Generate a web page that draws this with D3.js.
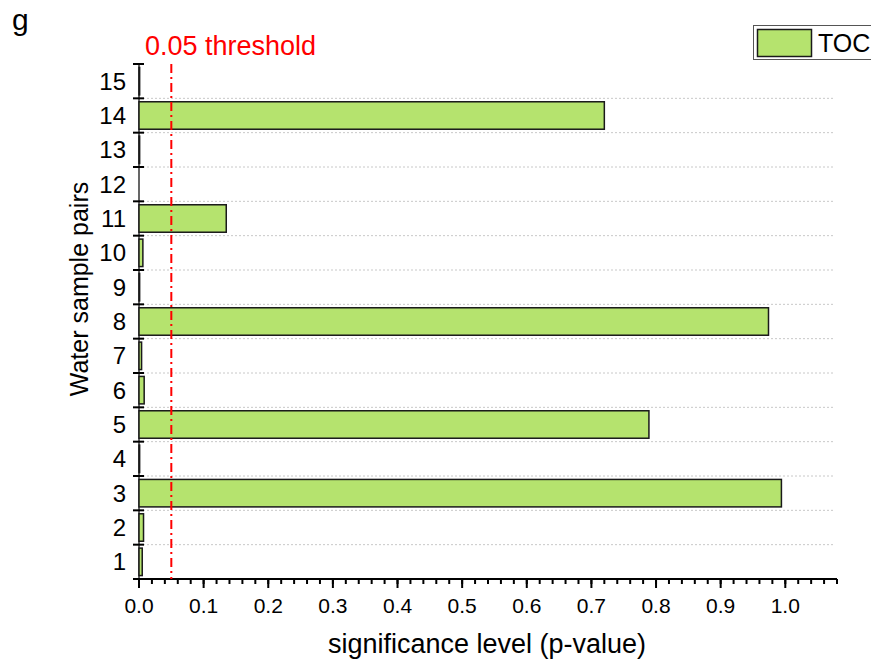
<!DOCTYPE html>
<html><head><meta charset="utf-8">
<script src="https://cdn.jsdelivr.net/npm/d3@7"></script>
<style>body{margin:0;background:#fff}svg{display:block;font-family:"Liberation Sans",Arial,sans-serif}</style>
</head><body><svg id="c" width="871" height="661"></svg>
<script>
const categories = ["1","2","3","4","5","6","7","8","9","10","11","12","13","14","15"];
const pValues = [0.005, 0.007, 0.994, 0.001, 0.789, 0.008, 0.004, 0.974, 0.001, 0.006, 0.135, 0, 0.001, 0.720, 0.001];
const xTicks = [0,0.1,0.2,0.3,0.4,0.5,0.6,0.7,0.8,0.9,1.0];
const threshold = 0.05;
const seriesName = "TOC";

const svg = d3.select("#c");
const L = 139, R = 837, T = 64, B = 579;
const x = d3.scaleLinear().domain([0, 1.08]).range([L, R]);
const y = d3.scaleBand().domain(categories.slice().reverse()).range([T, B]).paddingInner(0.2).paddingOuter(0.1);
const step = y.step();
const bandTop = c => y(c) - y.paddingInner()*step/2;

// gridlines at band boundaries
const bounds = categories.slice(0, -1).map(c => bandTop(c));
svg.append("g").selectAll("line").data(bounds).join("line")
  .attr("x1", L).attr("x2", 835).attr("y1", d => d).attr("y2", d => d)
  .attr("stroke", "#c8c8c8").attr("stroke-width", 1).attr("stroke-dasharray", "2,2");

// y axis line
svg.append("line").attr("x1", L).attr("x2", L).attr("y1", T).attr("y2", B)
  .attr("stroke", "#000").attr("stroke-width", 1.2);

// bars
svg.append("g").selectAll("rect").data(categories.map((c,i)=>({c, v:pValues[i]})).filter(d=>d.v>0)).join("rect")
  .attr("x", x(0)).attr("y", d => y(d.c)).attr("height", y.bandwidth())
  .attr("width", d => x(d.v) - x(0))
  .attr("fill", "#b5e36e").attr("stroke", "#1a1a1a").attr("stroke-width", 1.5);

// y ticks at band boundaries
const yTickPos = [T].concat(bounds).concat([B]);
svg.append("g").selectAll("line").data(yTickPos).join("line")
  .attr("x1", L-6).attr("x2", L+5).attr("y1", d=>d).attr("y2", d=>d)
  .attr("stroke", "#000").attr("stroke-width", 2);

// y labels
svg.append("g").selectAll("text").data(categories).join("text")
  .attr("x", 126).attr("y", d => y(d) + y.bandwidth()/2 + 8.5)
  .attr("text-anchor", "end").attr("font-size", 24).attr("fill", "#000").text(d => d);

// x axis
const xAxis = svg.append("g").attr("transform", `translate(0,${B})`);
xAxis.append("line").attr("x1", L-1).attr("x2", R).attr("stroke", "#000").attr("stroke-width", 2);
const minor = d3.range(0, 1.0801, 0.02);
xAxis.selectAll("line.mn").data(minor).join("line").attr("class","mn")
  .attr("x1", d=>x(d)).attr("x2", d=>x(d)).attr("y1", 0).attr("y2", 5)
  .attr("stroke", "#000").attr("stroke-width", 2);
xAxis.selectAll("line.mj").data(xTicks).join("line").attr("class","mj")
  .attr("x1", d=>x(d)).attr("x2", d=>x(d)).attr("y1", 0).attr("y2", 9)
  .attr("stroke", "#000").attr("stroke-width", 2);
xAxis.selectAll("text").data(xTicks).join("text")
  .attr("x", d=>x(d)).attr("y", 34).attr("text-anchor", "middle")
  .attr("font-size", 21).attr("fill", "#000").text(d => d3.format(".1f")(d));

// threshold
svg.append("line").attr("x1", x(threshold)).attr("x2", x(threshold)).attr("y1", T).attr("y2", B)
  .attr("stroke", "#ff0000").attr("stroke-width", 2).attr("stroke-dasharray", "9,4,2,4");
svg.append("text").attr("x", 145).attr("y", 55).attr("font-size", 27).attr("fill", "#ff0000")
  .text(threshold + " threshold");

// titles
svg.append("text").attr("x", 487).attr("y", 653).attr("text-anchor","middle")
  .attr("font-size", 27).attr("fill","#000").text("significance level (p-value)");
svg.append("text").attr("transform","translate(88,289) rotate(-90)").attr("text-anchor","middle")
  .attr("font-size", 25).attr("fill","#000").text("Water sample pairs");
svg.append("text").attr("x", 12).attr("y", 30).attr("font-size", 30).attr("fill","#000").text("g");

// legend
const lg = svg.append("g");
lg.append("rect").attr("x", 753.5).attr("y", 25.5).attr("width", 130).attr("height", 34)
  .attr("fill", "#fff").attr("stroke", "#555").attr("stroke-width", 1);
lg.append("rect").attr("x", 757.5).attr("y", 29.5).attr("width", 54).attr("height", 27)
  .attr("fill", "#b5e36e").attr("stroke", "#1a1a1a").attr("stroke-width", 1.5);
lg.append("text").attr("x", 818).attr("y", 52).attr("font-size", 25).attr("fill","#000").text(seriesName);
</script></body></html>
